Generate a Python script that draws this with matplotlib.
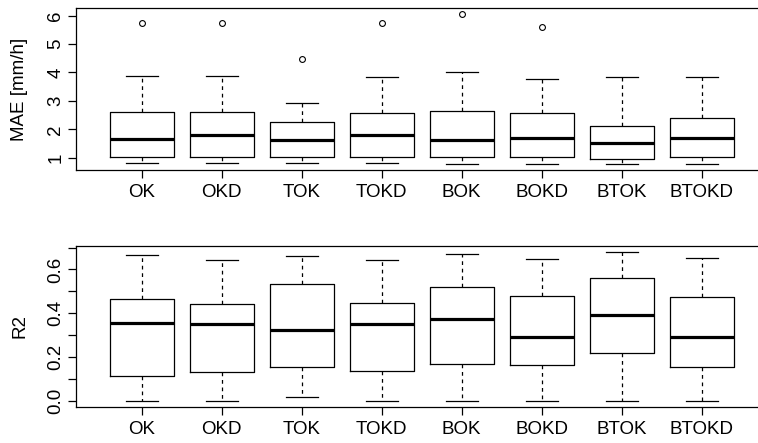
import matplotlib
matplotlib.use("Agg")
import matplotlib.pyplot as plt
import numpy as np

plt.rcParams['font.family'] = ['Liberation Sans', 'DejaVu Sans']

categories = ["OK", "OKD", "TOK", "TOKD", "BOK", "BOKD", "BTOK", "BTOKD"]

# MAE [mm/h] box statistics
mae_whislo = [0.81, 0.81, 0.82, 0.81, 0.79, 0.79, 0.77, 0.79]
mae_q1     = [1.02, 1.02, 1.02, 1.02, 1.01, 1.04, 0.96, 1.04]
mae_med    = [1.66, 1.80, 1.61, 1.80, 1.62, 1.70, 1.51, 1.69]
mae_q3     = [2.62, 2.62, 2.25, 2.56, 2.63, 2.58, 2.13, 2.39]
mae_whishi = [3.88, 3.88, 2.92, 3.84, 4.03, 3.78, 3.85, 3.85]
mae_fliers = [[5.75], [5.75], [4.46], [5.75], [6.05], [5.59], [], []]

# R2 box statistics
r2_whislo = [0.000, 0.000, 0.017, 0.000, 0.000, 0.000, 0.000, 0.000]
r2_q1     = [0.114, 0.132, 0.155, 0.135, 0.170, 0.163, 0.217, 0.153]
r2_med    = [0.357, 0.351, 0.325, 0.352, 0.374, 0.292, 0.392, 0.292]
r2_q3     = [0.463, 0.442, 0.532, 0.445, 0.518, 0.477, 0.561, 0.475]
r2_whishi = [0.668, 0.644, 0.659, 0.644, 0.671, 0.647, 0.681, 0.650]
r2_fliers = [[], [], [], [], [], [], [], []]

mae_ticks = [1, 2, 3, 4, 5, 6]
r2_ticks = [0.0, 0.1, 0.2, 0.3, 0.4, 0.5, 0.6, 0.7]
r2_ticklabels = ["0.0", "", "0.2", "", "0.4", "", "0.6", ""]

W, H = 758, 443
fig = plt.figure(figsize=(W / 100, H / 100), dpi=100)

LEFT = 76.1
RIGHT = 767.3
def px_axes(left, right, top, bottom):
    return [left / W, 1 - bottom / H, (right - left) / W, (bottom - top) / H]

ax1 = fig.add_axes(px_axes(LEFT, RIGHT, 8.3, 170.2))
ax2 = fig.add_axes(px_axes(LEFT, RIGHT, 245.7, 407.0))

FS = 13.5

def draw(ax, lo, q1, med, q3, hi, fl, ticks, ticklabels, ylabel):
    stats = []
    for i, c in enumerate(categories):
        stats.append(dict(label=c, whislo=lo[i], q1=q1[i], med=med[i],
                          q3=q3[i], whishi=hi[i], fliers=fl[i]))
    pos = np.arange(1, len(categories) + 1)
    ax.bxp(stats, positions=pos, widths=0.8, showfliers=True,
           boxprops=dict(color='black', linewidth=0.9),
           medianprops=dict(color='black', linewidth=2.3, solid_capstyle='butt'),
           whiskerprops=dict(color='black', linewidth=0.9, linestyle=(0, (3, 3))),
           capprops=dict(color='black', linewidth=0.9),
           capwidths=0.4,
           flierprops=dict(marker='o', markerfacecolor='none',
                           markeredgecolor='black', markersize=4.2,
                           markeredgewidth=0.8, linestyle='none'))
    allv = lo + hi + [v for f in fl for v in f]
    lo_v, hi_v = min(allv), max(allv)
    r = hi_v - lo_v
    ax.set_ylim(lo_v - 0.04 * r, hi_v + 0.04 * r)
    ax.set_xlim(0.18, 8.82)
    ax.set_xticks(pos)
    ax.set_xticklabels(categories, fontsize=FS)
    ax.set_yticks(ticks)
    ax.set_yticklabels(ticklabels, fontsize=FS, rotation=90, va='center')
    ax.tick_params(axis='both', direction='out', length=6, width=0.9, color='black',
                   right=False, top=False)
    ax.tick_params(axis='x', pad=4)
    ax.tick_params(axis='y', pad=2.5)
    for s in ax.spines.values():
        s.set_linewidth(0.9)
    ax.spines['right'].set_visible(False)
    ax.set_ylabel(ylabel, fontsize=FS, va='center')
    ax.yaxis.set_label_coords((20 - LEFT) / (RIGHT - LEFT), 0.5)

draw(ax1, mae_whislo, mae_q1, mae_med, mae_q3, mae_whishi, mae_fliers,
     mae_ticks, [str(t) for t in mae_ticks], "MAE [mm/h]")
draw(ax2, r2_whislo, r2_q1, r2_med, r2_q3, r2_whishi, r2_fliers,
     r2_ticks, r2_ticklabels, "R2")

fig.savefig("out.png", dpi=100, facecolor='white')
